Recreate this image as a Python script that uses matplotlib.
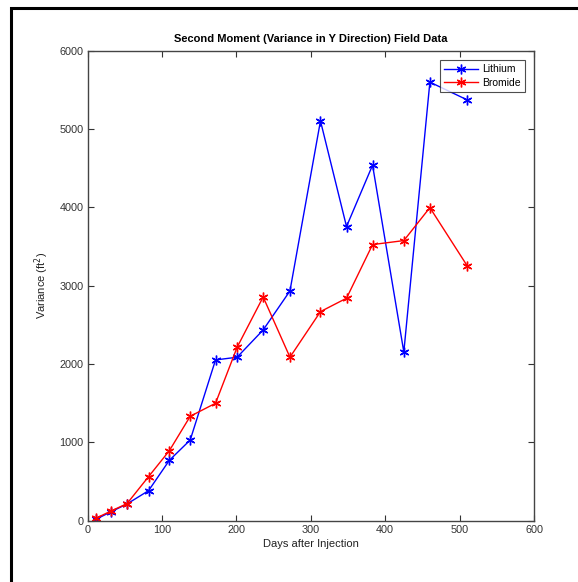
import matplotlib
matplotlib.use("Agg")
import matplotlib.pyplot as plt
from matplotlib.patches import Rectangle

plt.rcParams['font.family'] = ['Liberation Sans', 'DejaVu Sans']

# field data
days = [12, 31, 53, 82, 110, 138, 172, 201, 236, 272, 313, 348, 383, 425, 460, 510]
lithium = [20, 110, 212, 382, 770, 1029, 2051, 2086, 2434, 2932, 5103, 3754, 4538, 2153, 5598, 5372]
bromide = [33, 120, 216, 561, 893, 1332, 1498, 2213, 2855, 2086, 2668, 2839, 3524, 3575, 3996, 3255]

x_ticks = [0, 100, 200, 300, 400, 500, 600]
y_ticks = [0, 1000, 2000, 3000, 4000, 5000, 6000]

fig = plt.figure(figsize=(5.78, 5.82), dpi=100)
ax = fig.add_axes([0.1514, 0.1055, 0.7726, 0.8075])

asterisk = (6, 2, 0)
ax.plot(days, lithium, color='#0000ff', lw=1.0, marker=asterisk, ms=7, mew=1.0, label='Lithium')
ax.plot(days, bromide, color='#ff0000', lw=1.0, marker=asterisk, ms=7, mew=1.0, label='Bromide')

ax.set_xlim(0, 600)
ax.set_ylim(0, 6000)
ax.set_xticks(x_ticks)
ax.set_yticks(y_ticks)
ax.tick_params(direction='in', top=True, right=True, length=4, width=0.8,
               labelsize=7.8, labelcolor='#333333', color='#333333', pad=3)
for s in ax.spines.values():
    s.set_color('#444444')
    s.set_linewidth(1.0)

ax.set_title('Second Moment (Variance in Y Direction) Field Data', fontsize=8, fontweight='bold', pad=6)
ax.set_xlabel('Days after Injection', fontsize=8, color='#222222', labelpad=3)
ax.set_ylabel('Variance (ft$^2$)', fontsize=8, color='#222222', labelpad=6)

leg = ax.legend(loc='upper right', fontsize=7.5, frameon=True, fancybox=False,
                borderpad=0.4, handlelength=3.2, handletextpad=0.4, labelspacing=0.35,
                borderaxespad=0.9)
leg.get_frame().set_edgecolor('#222222')
leg.get_frame().set_linewidth(0.8)

# black frame around the picture (top and left edges visible)
fig.patches.append(Rectangle((10.5 / 578, -0.05), 1.2, 1.05 - 7.5 / 582,
                             transform=fig.transFigure, fill=False, edgecolor='black', lw=2.2))

fig.savefig('out.png', dpi=100)
